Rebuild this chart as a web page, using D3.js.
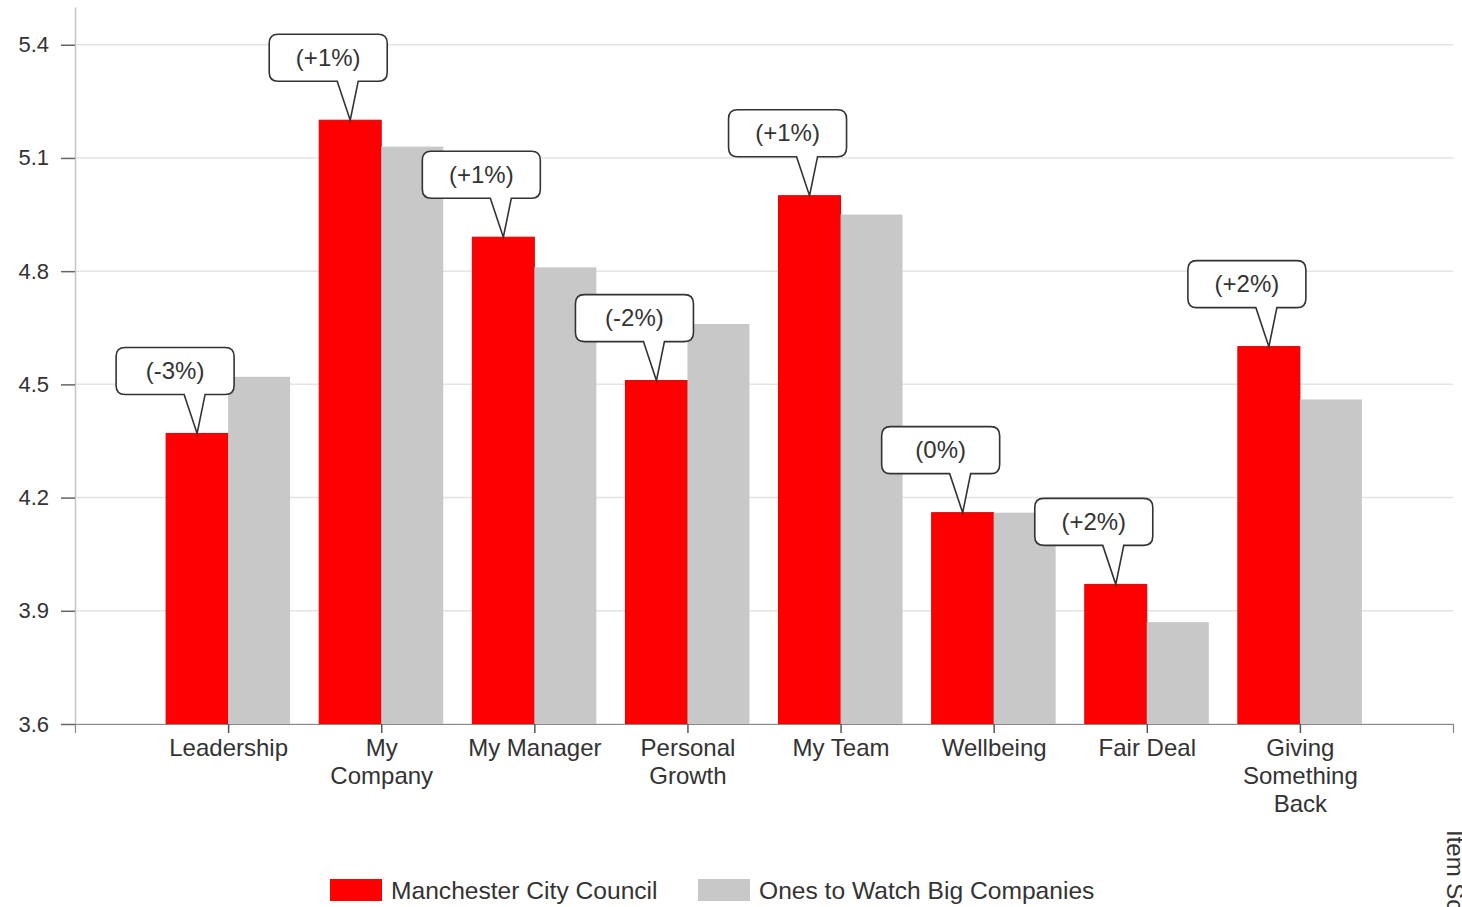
<!DOCTYPE html>
<html>
<head>
<meta charset="utf-8">
<script src="https://cdn.jsdelivr.net/npm/d3@7"></script>
<style>
  html, body { margin: 0; padding: 0; background: #fff; }
  svg { display: block; font-family: "Liberation Sans", Arial, sans-serif; }
</style>
</head>
<body>
<svg id="chart" width="1462" height="907"></svg>
<script>
// Survey factor scores
const categories = ["Leadership", "My Company", "My Manager", "Personal Growth",
                    "My Team", "Wellbeing", "Fair Deal", "Giving Something Back"];
const categoryLines = [["Leadership"], ["My", "Company"], ["My Manager"], ["Personal", "Growth"],
                       ["My Team"], ["Wellbeing"], ["Fair Deal"], ["Giving", "Something", "Back"]];
const councilScores = [4.37, 5.20, 4.89, 4.51, 5.00, 4.16, 3.97, 4.60];
const benchmarkScores = [4.52, 5.13, 4.81, 4.66, 4.95, 4.16, 3.87, 4.46];
const changeLabels = ["(-3%)", "(+1%)", "(+1%)", "(-2%)", "(+1%)", "(0%)", "(+2%)", "(+2%)"];
const yTicks = [3.6, 3.9, 4.2, 4.5, 4.8, 5.1, 5.4];
const seriesNames = ["Manchester City Council", "Ones to Watch Big Companies"];
const seriesColors = ["#ff0000", "#c8c8c8"];

const svg = d3.select("#chart");
const plotLeft = 75, plotRight = 1453, plotTop = 7, plotBottom = 724;

const x = d3.scalePoint().domain(categories).range([plotLeft, plotRight]).padding(1);
const y = d3.scaleLinear().domain([3.6, 5.5]).range([plotBottom, plotTop]);
const barW = x.step() * 0.405;

// horizontal grid
svg.append("g").selectAll("line").data(yTicks).join("line")
  .attr("x1", plotLeft).attr("x2", plotRight)
  .attr("y1", d => y(d)).attr("y2", d => y(d))
  .attr("stroke", "#e4e4e4").attr("stroke-width", 1.5);

// bars
const groups = svg.append("g").selectAll("g").data(categories).join("g");
groups.append("rect")
  .attr("x", d => x(d) - barW)
  .attr("y", (d, i) => y(councilScores[i]))
  .attr("width", barW)
  .attr("height", (d, i) => y(3.6) - y(councilScores[i]))
  .attr("fill", seriesColors[0]).attr("stroke", "#e00000").attr("stroke-width", 1);
groups.append("rect")
  .attr("x", d => x(d))
  .attr("y", (d, i) => y(benchmarkScores[i]))
  .attr("width", barW)
  .attr("height", (d, i) => y(3.6) - y(benchmarkScores[i]))
  .attr("fill", seriesColors[1]);

// y axis
const yAxis = svg.append("g").attr("transform", `translate(${plotLeft},0)`)
  .call(d3.axisLeft(y).tickValues(yTicks).tickFormat(d3.format(".1f")).tickSize(14).tickSizeOuter(0).tickPadding(12));
yAxis.select(".domain").attr("stroke", "#c4c4c4").attr("stroke-width", 1.5);
yAxis.selectAll(".tick line").attr("stroke", "#666").attr("stroke-width", 1.5);
yAxis.selectAll(".tick text").attr("fill", "#333").style("font-size", "22px");

// x axis
const xAxis = svg.append("g").attr("transform", `translate(0,${plotBottom})`)
  .call(d3.axisBottom(x).tickSize(9).tickSizeOuter(9).tickFormat(""));
xAxis.select(".domain").attr("stroke", "#888").attr("stroke-width", 1.2);
xAxis.selectAll(".tick line").attr("stroke", "#555").attr("stroke-width", 1.5);
xAxis.selectAll(".tick").each(function(d, i) {
  const t = d3.select(this).append("text")
    .attr("fill", "#333").attr("text-anchor", "middle")
    .style("font-size", "24px");
  categoryLines[i].forEach((line, k) => {
    t.append("tspan").attr("x", 0).attr("y", 32 + k * 28).text(line);
  });
});

// change callouts above the council bars
const boxW = 118, boxH = 47, gap = 39;
const callouts = svg.append("g").selectAll("g").data(categories).join("g")
  .attr("transform", (d, i) => `translate(${x(d) - barW / 2},${y(councilScores[i])})`);
callouts.append("path")
  .attr("d", () => {
    const bx = -22 - boxW / 2, by = -gap - boxH, r = 9;
    return `M${bx + r},${by} H${bx + boxW - r} Q${bx + boxW},${by} ${bx + boxW},${by + r}` +
      ` V${by + boxH - r} Q${bx + boxW},${by + boxH} ${bx + boxW - r},${by + boxH}` +
      ` H8 L0,0 L-13,${by + boxH}` +
      ` H${bx + r} Q${bx},${by + boxH} ${bx},${by + boxH - r} V${by + r} Q${bx},${by} ${bx + r},${by} Z`;
  })
  .attr("fill", "#fff").attr("stroke", "#333").attr("stroke-width", 1.6);
callouts.append("text")
  .attr("x", -22).attr("y", -gap - boxH / 2 + 8)
  .attr("text-anchor", "middle").attr("fill", "#333")
  .style("font-size", "24px")
  .text((d, i) => changeLabels[i]);

// legend
const legendX = [330, 698];
const legend = svg.append("g").selectAll("g").data(seriesNames).join("g")
  .attr("transform", (d, i) => `translate(${legendX[i]},879)`);
legend.append("rect").attr("width", 52).attr("height", 22)
  .attr("fill", (d, i) => seriesColors[i]);
legend.append("text").attr("x", 61).attr("y", 20)
  .attr("fill", "#333").style("font-size", "24.6px").text(d => d);

// right-hand axis title, running off the lower edge
svg.append("text")
  .attr("transform", "translate(1447,830) rotate(90)")
  .attr("fill", "#333").style("font-size", "24px")
  .text("Item Scores");
</script>
</body>
</html>
